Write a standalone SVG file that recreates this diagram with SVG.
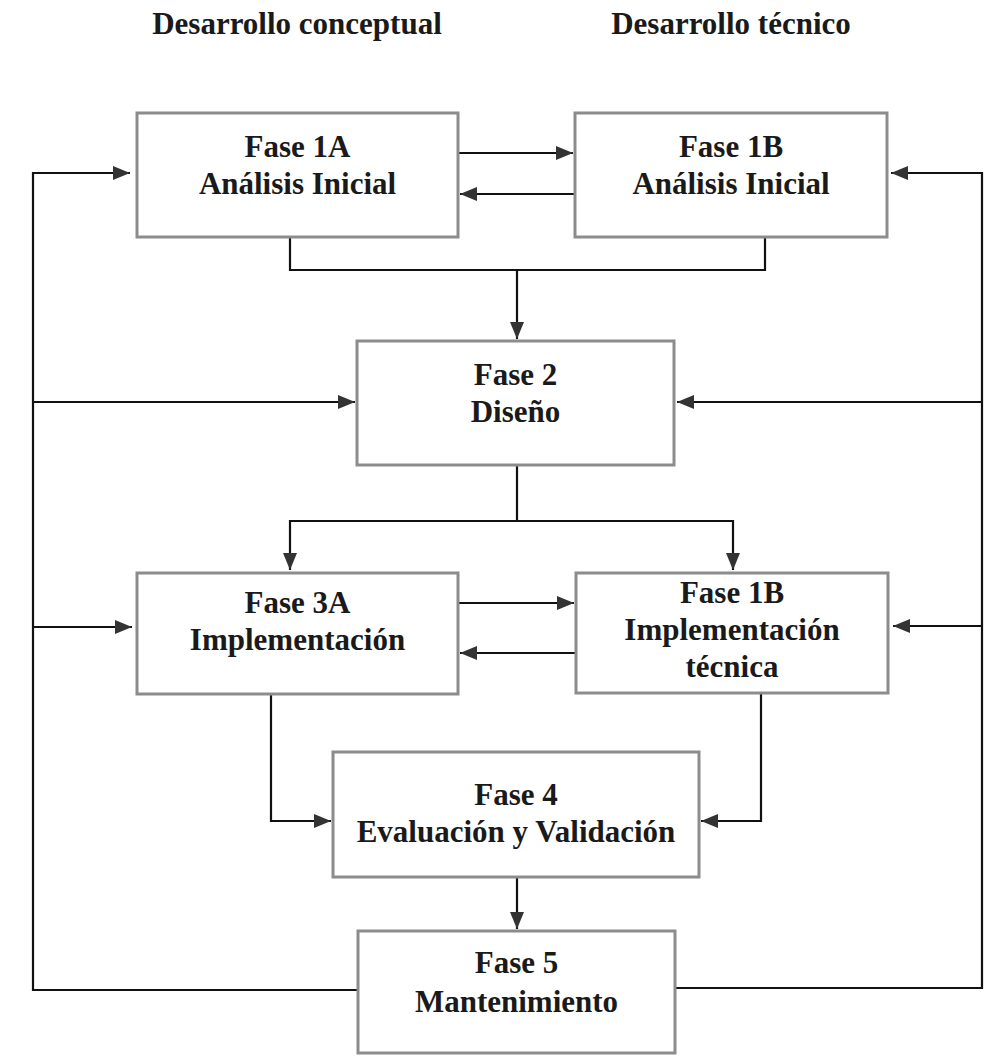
<svg xmlns="http://www.w3.org/2000/svg" width="988" height="1056" viewBox="0 0 988 1056">
<style>
.box{fill:#fff;stroke:#8c8c8c;stroke-width:3}
.t{font-family:"Liberation Serif","Times New Roman",serif;font-weight:bold;font-size:31px;fill:#1a1a1a;text-anchor:middle}
.c{fill:none;stroke:#111;stroke-width:2.2}
</style>
<defs>
<marker id="ah" markerUnits="userSpaceOnUse" markerWidth="18" markerHeight="14" refX="17" refY="7" orient="auto">
<path d="M0,0 L17,7 L0,14 z" fill="#333"/>
</marker>
</defs>
<rect width="988" height="1056" fill="#fff"/>
<g id="headers">
<text class="t" x="297" y="34">Desarrollo conceptual</text>
<text class="t" x="731" y="34">Desarrollo técnico</text>
</g>
<g id="connectors">
<path class="c" d="M458,153 H573" marker-end="url(#ah)"/>
<path class="c" d="M575,194 H460" marker-end="url(#ah)"/>
<path class="c" d="M358,990 H33 V173 H130" marker-end="url(#ah)"/>
<path class="c" d="M33,402 H355" marker-end="url(#ah)"/>
<path class="c" d="M33,627 H132" marker-end="url(#ah)"/>
<path class="c" d="M675,988 H982 V173 H891" marker-end="url(#ah)"/>
<path class="c" d="M982,402 H677" marker-end="url(#ah)"/>
<path class="c" d="M982,626 H893" marker-end="url(#ah)"/>
<path class="c" d="M290,237 V270 H765 V237"/>
<path class="c" d="M517,270 V339" marker-end="url(#ah)"/>
<path class="c" d="M517,465 V521 H290 V570" marker-end="url(#ah)"/>
<path class="c" d="M517,521 H733 V570" marker-end="url(#ah)"/>
<path class="c" d="M458,603 H574" marker-end="url(#ah)"/>
<path class="c" d="M576,653 H460" marker-end="url(#ah)"/>
<path class="c" d="M271,694 V821 H331" marker-end="url(#ah)"/>
<path class="c" d="M761,693 V821 H701" marker-end="url(#ah)"/>
<path class="c" d="M517,877 V929" marker-end="url(#ah)"/>
</g>
<g id="fase1a">
<rect class="box" x="137" y="113" width="321" height="124"/>
<text class="t" x="297.5" y="157">Fase 1A</text>
<text class="t" x="297.5" y="194">Análisis Inicial</text>
</g>
<g id="fase1b">
<rect class="box" x="575" y="113" width="312" height="124"/>
<text class="t" x="731" y="157">Fase 1B</text>
<text class="t" x="731" y="194">Análisis Inicial</text>
</g>
<g id="fase2">
<rect class="box" x="357" y="341" width="317" height="124"/>
<text class="t" x="515.5" y="385">Fase 2</text>
<text class="t" x="515.5" y="422">Diseño</text>
</g>
<g id="fase3a">
<rect class="box" x="137" y="573" width="321" height="121"/>
<text class="t" x="297.5" y="613">Fase 3A</text>
<text class="t" x="297.5" y="650">Implementación</text>
</g>
<g id="fase3b">
<rect class="box" x="576" y="573" width="312" height="120"/>
<text class="t" x="732" y="603">Fase 1B</text>
<text class="t" x="732" y="640">Implementación</text>
<text class="t" x="732" y="677">técnica</text>
</g>
<g id="fase4">
<rect class="box" x="333" y="752" width="366" height="125"/>
<text class="t" x="516" y="805">Fase 4</text>
<text class="t" x="516" y="842">Evaluación y Validación</text>
</g>
<g id="fase5">
<rect class="box" x="358" y="931" width="317" height="122"/>
<text class="t" x="516.5" y="973">Fase 5</text>
<text class="t" x="516.5" y="1012">Mantenimiento</text>
</g>
</svg>
